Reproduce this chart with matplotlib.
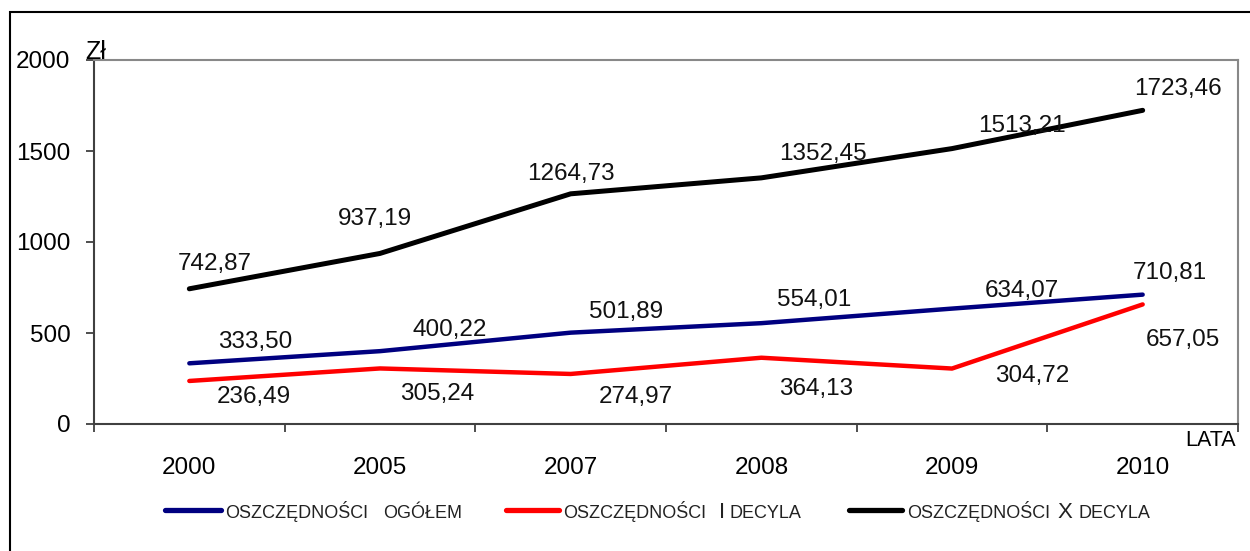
import matplotlib
matplotlib.use("Agg")
import matplotlib.pyplot as plt
from matplotlib.lines import Line2D
from matplotlib.patches import Rectangle
import numpy as np

plt.rcParams['font.family'] = ['Liberation Sans', 'DejaVu Sans']

years = ['2000', '2005', '2007', '2008', '2009', '2010']
ogolem = [333.50, 400.22, 501.89, 554.01, 634.07, 710.81]
decyl_1 = [236.49, 305.24, 274.97, 364.13, 304.72, 657.05]
decyl_10 = [742.87, 937.19, 1264.73, 1352.45, 1513.21, 1723.46]

# label offsets in pixels from each point
off_ogolem = [(66, 21), (70, 21), (55, 21), (53, 23), (70, 18), (27, 22)]
off_d1 = [(64, -16), (57, -26), (65, -23), (55, -31), (80, -7), (40, -36)]
off_d10 = [(25, 25), (-5, 34), (0, 20), (62, 24), (70, 23), (35, 21)]

def fmt(v):
    return ('%.2f' % v).replace('.', ',')

fig = plt.figure(figsize=(12.5, 5.51), dpi=100)
fig.patches.append(Rectangle((10 / 1250, -0.1), 1.2, 1 - 12 / 551 + 0.1,
                             transform=fig.transFigure, fill=False,
                             edgecolor='black', linewidth=1.5))
ax = fig.add_axes([94 / 1250, 1 - 424 / 551, (1238 - 94) / 1250, (424 - 60) / 551])
ax.patch.set_alpha(0)

x = np.arange(len(years))
series = [
    (ogolem, '#000080', 3.2, off_ogolem),
    (decyl_1, '#ff0000', 3.2, off_d1),
    (decyl_10, '#000000', 3.6, off_d10),
]
for vals, col, lw, offs in series:
    ax.plot(x, vals, color=col, linewidth=lw, solid_capstyle='round')
    for xi, v, o in zip(x, vals, offs):
        ax.annotate(fmt(v), (xi, v), xytext=o, textcoords='offset pixels',
                    ha='center', va='center', fontsize=17.5, color='#111111')

ax.set_xlim(-0.5, len(years) - 0.5)
ax.set_ylim(0, 2000)
ax.set_yticks([0, 500, 1000, 1500, 2000])
ax.set_xticks(x)
ax.set_xticklabels(years)
ax.set_xticks(np.arange(-0.5, len(years)), minor=True)
ax.tick_params(axis='x', which='major', length=0, pad=24, labelsize=17.5)
ax.tick_params(axis='x', which='minor', length=6, width=1.3, direction='out', color='#404040')
ax.tick_params(axis='y', length=6, width=1.3, direction='out', color='#404040', pad=11, labelsize=17.5)

for s in ['left', 'bottom']:
    ax.spines[s].set_color('#404040')
    ax.spines[s].set_linewidth(1.5)
for s in ['top', 'right']:
    ax.spines[s].set_color('#888888')
    ax.spines[s].set_linewidth(1.5)

fig.text(85 / 1250, 1 - 59 / 551, 'Zł', fontsize=18, ha='left', va='baseline', zorder=10)
fig.text(1236 / 1250, 1 - 440 / 551, 'LATA', fontsize=15.5, ha='right', va='center', zorder=10)

# legend drawn by hand: line span, then text pieces (text, left x, size)
line_y = 1 - 510 / 551
base_y = 1 - 518 / 551
legend_items = [
    ('#000080', 165, 221, [('OSZCZĘDNOŚCI', 225, 13), ('OGÓŁEM', 383, 13)]),
    ('#ff0000', 506, 559, [('OSZCZĘDNOŚCI', 563, 13), ('I', 719, 16), ('DECYLA', 729, 13)]),
    ('#000000', 849, 902, [('OSZCZĘDNOŚCI', 907, 13), ('X', 1057, 16), ('DECYLA', 1079, 13)]),
]
for col, x0, x1, pieces in legend_items:
    fig.add_artist(Line2D([x0 / 1250, x1 / 1250], [line_y, line_y], color=col,
                          linewidth=3.8, solid_capstyle='round'))
    for piece, px, fs in pieces:
        fig.text(px / 1250, base_y, piece, fontsize=fs, ha='left', va='baseline',
                 color='#222222')

fig.savefig('out.png', dpi=100)
